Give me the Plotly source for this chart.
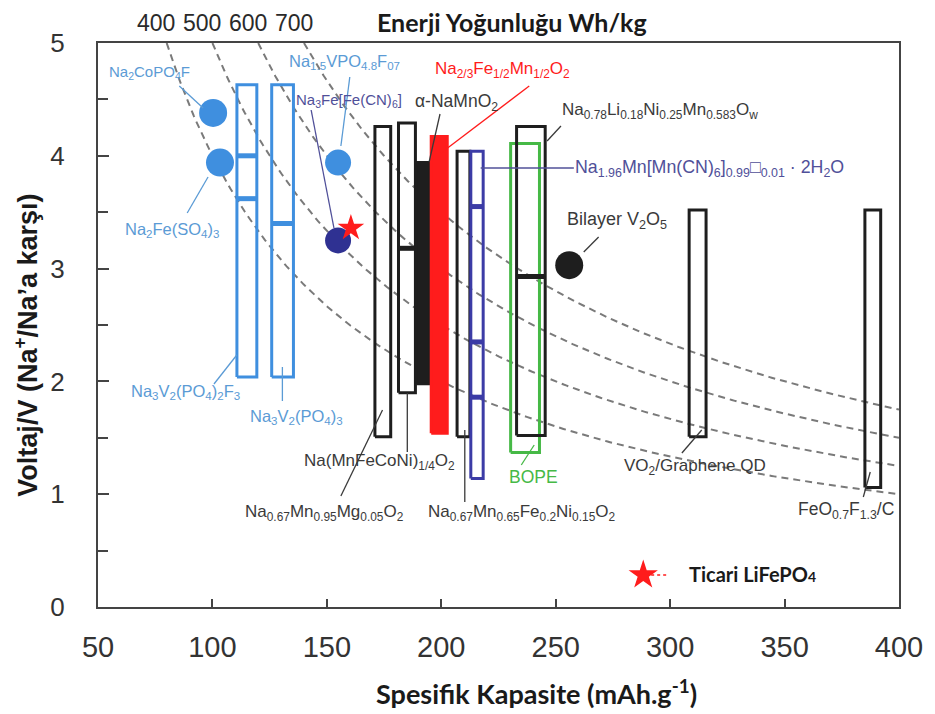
import numpy as np
import plotly.graph_objects as go

# ---------------- data ----------------
energy_levels = [400, 500, 600, 700]          # Wh/kg iso-energy guide lines
x_ticks = [50, 100, 150, 200, 250, 300, 350, 400]
y_ticks = [0, 1, 2, 3, 4, 5]

rect_names = ["Na3V2(PO4)2F3", "Na3V2(PO4)3", "Na0.67Mn0.95Mg0.05O2", "Na(MnFeCoNi)1/4O2",
              "a-NaMnO2", "Na2/3Fe1/2Mn1/2O2", "Na0.67Mn0.65Fe0.2Ni0.15O2",
              "Na1.96Mn[Mn(CN)6]", "BOPE", "Na0.78Li0.18Ni0.25Mn0.583Ow",
              "VO2/Graphene QD", "FeO0.7F1.3/C"]
rect_cap_lo = [110.7, 125.9, 171.0, 181.3, 189.1, 195.6, 206.9, 212.9, 230.3, 232.9, 308.3, 385.1]
rect_cap_hi = [119.4, 135.4, 177.9, 188.7, 195.2, 202.6, 212.5, 218.3, 242.9, 245.4, 315.7, 392.0]
rect_v_lo = [2.04, 2.04, 1.51, 1.90, 1.98, 1.54, 1.51, 1.14, 1.37, 1.52, 1.51, 1.06]
rect_v_hi = [4.63, 4.63, 4.26, 4.29, 3.94, 4.17, 4.04, 4.04, 4.11, 4.26, 3.52, 3.52]
rect_plateaus = [[4.0, 3.62], [3.40], [], [3.18], [], [], [], [3.55, 2.35, 1.86], [], [2.93], [], []]

circle_names = ["Na2CoPO4F", "Na2Fe(SO4)3", "Na1.5VPO4.8F0.7", "Na3Fe[Fe(CN)6]", "Bilayer V2O5"]
circle_cap = [100.3, 103.3, 154.9, 154.9, 255.9]
circle_v = [4.38, 3.94, 3.94, 3.25, 3.03]

lifepo4_cap = [160.5]
lifepo4_v = [3.36]

# ---------------- styles ----------------
LB = "#3f8fdf"      # light blue
LBT = "#5b9bd5"     # light blue text
NAVY = "#2f3192"
NAVYT = "#505099"
RED = "#ff1c1c"
GRN = "#46b946"
BLK = "#1e1e1e"
GRT = "#3a3a3a"

rect_colors = [LB, LB, BLK, BLK, BLK, RED, BLK, "#3c3ca6", GRN, BLK, BLK, BLK]
rect_fill = [False, False, False, False, True, True, False, False, False, False, False, False]
circle_colors = [LB, LB, LB, NAVY, BLK]
circle_sizes = [28, 28, 26, 26, 28]

# The page body has an 8px margin; plot area in page pixels is x 98..906, y 43..607.
OFF = 8

# pixel -> data / paper helpers for annotation placement (page pixels)
def X(px):
    return 50 + (px - 98) * 350 / 808

def Y(py):
    return (607 - py) * 5 / 564

def PX(px):
    return (px - 98) / 808

def PY(py):
    return (607 - py) / 564

fig = go.Figure()

# iso-energy dashed curves
for E in energy_levels:
    c = np.linspace(E / 5, 400, 300)
    fig.add_trace(go.Scatter(x=c, y=E / c, mode="lines",
                             line=dict(color="#7a7a7a", width=2, dash="7px,5px"),
                             hoverinfo="skip", showlegend=False))

# rectangles
for i in range(len(rect_names)):
    x0, x1 = rect_cap_lo[i], rect_cap_hi[i]
    y0, y1 = rect_v_lo[i], rect_v_hi[i]
    col = rect_colors[i]
    fig.add_trace(go.Scatter(
        x=[x0, x1, x1, x0, x0], y=[y0, y0, y1, y1, y0], mode="lines",
        line=dict(color=col, width=3),
        fill="toself" if rect_fill[i] else None,
        fillcolor=col if rect_fill[i] else None,
        name=rect_names[i], showlegend=False))
    for p in rect_plateaus[i]:
        fig.add_trace(go.Scatter(x=[x0, x1], y=[p, p], mode="lines",
                                 line=dict(color=col, width=5),
                                 hoverinfo="skip", showlegend=False))

# circles
fig.add_trace(go.Scatter(x=circle_cap, y=circle_v, mode="markers", text=circle_names,
                         marker=dict(color=circle_colors, size=circle_sizes, opacity=1,
                                     line=dict(width=0)),
                         showlegend=False))

# commercial LiFePO4 star
fig.add_trace(go.Scatter(x=lifepo4_cap, y=lifepo4_v, mode="markers",
                         marker=dict(symbol="star", color=RED, size=20, opacity=1, line=dict(width=0)),
                         showlegend=False))
# legend star
fig.add_trace(go.Scatter(x=[X(648)], y=[Y(575)], mode="markers",
                         marker=dict(symbol="star", color=RED, size=22, opacity=1, line=dict(width=0)),
                         showlegend=False, hoverinfo="skip"))

shapes = []
def leader(p0, p1, color, dash=None, width=1.3):
    shapes.append(dict(type="line", xref="x", yref="y",
                       x0=X(p0[0]), y0=Y(p0[1]), x1=X(p1[0]), y1=Y(p1[1]),
                       line=dict(color=color, width=width, dash=dash)))

annotations = []
def label(text, left, yc, color, size=16.5, font="Liberation Sans, Arial, sans-serif"):
    annotations.append(dict(text=text, x=X(left), y=Y(yc), xref="x", yref="y",
                            xanchor="left", yanchor="middle", showarrow=False,
                            font=dict(family=font, size=size, color=color)))

label("Na<sub>2</sub>CoPO<sub>4</sub>F", 107, 72, LBT, size=15)
leader((180, 86), (204, 108), LBT)
label("Na<sub>2</sub>Fe(SO<sub>4</sub>)<sub>3</sub>", 123, 230, LBT, size=16.5)
leader((188, 213), (209, 177), LBT)
label("Na<sub>3</sub>V<sub>2</sub>(PO<sub>4</sub>)<sub>2</sub>F<sub>3</sub>", 129, 392, LBT)
leader((215, 384), (238, 355), LBT)
label("Na<sub>3</sub>V<sub>2</sub>(PO<sub>4</sub>)<sub>3</sub>", 249, 417, LBT)
leader((284, 367), (284, 401), LBT)
label("Na<sub>1.5</sub>VPO<sub>4.8</sub>F<sub>07</sub>", 289, 62, LBT)
leader((352, 77), (343, 146), LBT)
label("Na<sub>3</sub>Fe[Fe(CN)<sub>6</sub>]", 296, 100, NAVYT, size=15)
leader((313, 110), (336, 228), NAVYT)
label("α-NaMnO<sub>2</sub>", 416, 102, GRT, size=17.5)
leader((443, 114), (432, 162), GRT)
label("Na<sub>2/3</sub>Fe<sub>1/2</sub>Mn<sub>1/2</sub>O<sub>2</sub>", 436, 70, RED, size=17)
leader((533, 86), (444, 153), RED)
label("Na<sub>0.78</sub>Li<sub>0.18</sub>Ni<sub>0.25</sub>Mn<sub>0.583</sub>O<sub>w</sub>", 564, 111, GRT, size=17)
leader((565, 126), (551, 141), GRT)
label("Na<sub>1.96</sub>Mn[Mn(CN)<sub>6</sub>]<sub>0.99</sub>□<sub>0.01</sub> · 2H<sub>2</sub>O", 577, 168, NAVYT, size=17.8)
leader((484, 168), (578, 168), NAVYT)
label("Bilayer V<sub>2</sub>O<sub>5</sub>", 569, 220, GRT, size=18)
leader((588, 252), (603, 237), GRT)
label("Na(MnFeCoNi)<sub>1/4</sub>O<sub>2</sub>", 304, 462, GRT, size=17)
leader((410, 393), (410, 452), GRT)
label("Na<sub>0.67</sub>Mn<sub>0.95</sub>Mg<sub>0.05</sub>O<sub>2</sub>", 244, 513, GRT, size=17)
leader((343, 496), (385, 410), GRT)
label("Na<sub>0.67</sub>Mn<sub>0.65</sub>Fe<sub>0.2</sub>Ni<sub>0.15</sub>O<sub>2</sub>", 429, 513, GRT, size=17)
leader((468, 430), (468, 502), GRT)
label("BOPE", 511, 477, GRN, size=17.5)
leader((525, 465), (538, 445), GRN)
label("VO<sub>2</sub>/Graphene QD", 627, 467, GRT, size=17)
leader((687, 453), (707, 430), GRT)
label("FeO<sub>0.7</sub>F<sub>1.3</sub>/C", 802, 510, GRT, size=17.5)
leader((870, 497), (877, 472), GRT)

# legend for LiFePO4
leader((656, 575), (674, 575), RED, dash="dot", width=1.5)
label("<b>Ticari LiFePO<span style='font-size:14px'>4</span></b>", 692, 574, "#1a1a1a", size=20,
      font="Lato, sans-serif")

# energy density labels on top (paper coords, above the plot)
for E in energy_levels:
    annotations.append(dict(text=str(E), x=(E / 5 - 4.5 - 50) / 350, y=PY(23),
                            xref="paper", yref="paper",
                            xanchor="center", yanchor="middle", showarrow=False,
                            font=dict(family="Liberation Sans, Arial, sans-serif", size=23, color="#2a2a2a")))
annotations.append(dict(text="<b>Enerji Yoğunluğu Wh/kg</b>", x=PX(377), y=PY(22),
                        xref="paper", yref="paper",
                        xanchor="left", yanchor="middle", showarrow=False,
                        font=dict(family="Lato, sans-serif", size=25, color="#1a1a1a")))

# axis titles
annotations.append(dict(text="<b>Spesifik Kapasite (mAh.g<sup>-1</sup>)</b>", x=PX(540), y=PY(692),
                        xref="paper", yref="paper", xanchor="center", yanchor="middle", showarrow=False,
                        font=dict(family="Lato, sans-serif", size=27, color="#1a1a1a")))
annotations.append(dict(text="<b>Voltaj/V (Na<sup>+</sup>/Na’a karşı)</b>", x=PX(25), y=PY(345),
                        xref="paper", yref="paper", xanchor="center", yanchor="middle", showarrow=False,
                        textangle=-90,
                        font=dict(family="Liberation Sans, Arial, sans-serif", size=27, color="#1a1a1a")))

fig.update_layout(
    width=935 - OFF, height=714 - OFF,
    margin=dict(l=98 - OFF, r=935 - 906, t=43 - OFF, b=714 - 607),
    paper_bgcolor="white", plot_bgcolor="white",
    shapes=shapes, annotations=annotations,
    showlegend=False,
    xaxis=dict(range=[50, 400], tickvals=x_ticks, ticktext=[str(t) for t in x_ticks],
               showgrid=False, zeroline=False, showline=True, mirror=True,
               linecolor="#444", linewidth=2, ticks="inside", ticklen=8, tickwidth=2,
               tickcolor="#444", ticklabelstandoff=13,
               tickfont=dict(family="Liberation Sans, Arial, sans-serif", size=29, color="#333")),
    yaxis=dict(range=[0, 5], tickvals=y_ticks, ticktext=[str(t) for t in y_ticks],
               showgrid=False, zeroline=False, showline=True, mirror=True,
               linecolor="#444", linewidth=2, ticks="inside", ticklen=11, tickwidth=2,
               tickcolor="#444", ticklabelstandoff=26,
               minor=dict(dtick=0.5, ticks="inside", ticklen=10, tickwidth=2, tickcolor="#444"),
               tickfont=dict(family="Liberation Sans, Arial, sans-serif", size=26, color="#333")),
)

fig.write_html("out.html")
